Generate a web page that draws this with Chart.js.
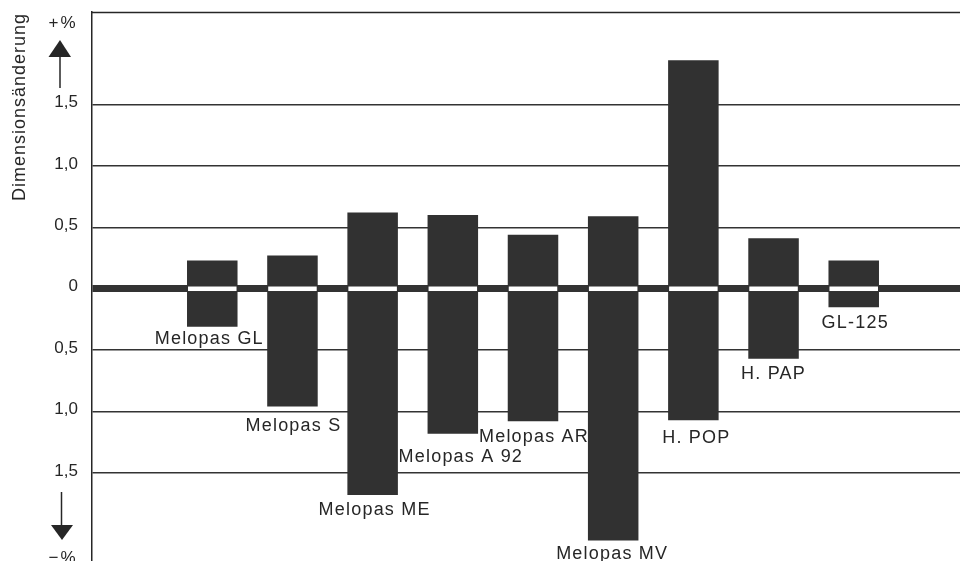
<!DOCTYPE html>
<html>
<head>
<meta charset="utf-8">
<script src="https://cdn.jsdelivr.net/npm/chart.js@4"></script>
<style>
  html, body { margin: 0; padding: 0; background: #fff; overflow: hidden; }
  #wrap { width: 974px; height: 561px; }
</style>
</head>
<body>
<div id="wrap"><canvas id="dimChart"></canvas></div>
<script>
// Materialien
var categories = ['Melopas GL', 'Melopas S', 'Melopas ME', 'Melopas A 92', 'Melopas AR',
                  'Melopas MV', 'H. POP', 'H. PAP', 'GL-125'];

// Dimensionsänderung in %: Zunahme (oben) und Abnahme (unten)
var growth = [0.23, 0.27, 0.62, 0.60, 0.44, 0.59, 1.86, 0.41, 0.23];
var shrink = [-0.31, -0.96, -1.68, -1.18, -1.08, -2.05, -1.07, -0.57, -0.15];

// y-Achse
var yTickValues = [-1.5, -1, -0.5, 0, 0.5, 1, 1.5];
var yTickLabels = ['1,5', '1,0', '0,5', '0', '0,5', '1,0', '1,5'];

var ink = '#262626';
var barColor = '#313131';
var fontFamily = '"Liberation Sans", Arial, Helvetica, sans-serif';

// one empty slot left and right so the bars sit where they do in the print
var slotLabels = [''].concat(categories).concat(['']);
var ranges = [null];
for (var i = 0; i < categories.length; i++) {
    ranges.push([shrink[i], growth[i]]);
}
ranges.push(null);

// fine placement of the bar captions (px), they are set by hand in the original
var captionDx = [-3, 1, 2, 8, 1, -1, 3, 0, 1.5];
var captionDy = [17, 24, 20, 28, 21, 19, 23, 20, 21];

var decorPlugin = {
    id: 'decor',
    beforeDatasetsDraw: function(chart) {
        var a = chart.chartArea, ctx = chart.ctx;
        ctx.save();
        ctx.strokeStyle = ink;
        ctx.lineWidth = 1.5;
        ctx.beginPath();
        ctx.moveTo(a.left, a.top + 0.5);
        ctx.lineTo(a.right, a.top + 0.5);
        ctx.stroke();
        ctx.restore();
    },
    afterDatasetsDraw: function(chart) {
        var ctx = chart.ctx;
        var y0 = chart.scales.y.getPixelForValue(0);
        var meta = chart.getDatasetMeta(0);
        ctx.save();
        meta.data.forEach(function(bar, i) {
            if (ranges[i] == null) return;
            var p = bar.getProps(['x', 'y', 'base', 'width'], true);
            // white stripe where the zero line crosses the bar
            ctx.fillStyle = '#fff';
            ctx.fillRect(p.x - p.width / 2 + 1, y0 - 2.2, p.width - 2, 4.5);
            // caption under the bar
            var k = i - 1;
            var bottom = Math.max(p.y, p.base);
            ctx.fillStyle = ink;
            ctx.font = '18px ' + fontFamily;
            ctx.letterSpacing = '1.2px';
            ctx.textAlign = 'center';
            ctx.textBaseline = 'alphabetic';
            ctx.fillText(categories[k], p.x + captionDx[k], bottom + captionDy[k]);
        });
        ctx.restore();
    },
    afterDraw: function(chart) {
        var ctx = chart.ctx;
        ctx.save();
        ctx.fillStyle = ink;
        ctx.strokeStyle = ink;

        // axis title, rotated
        ctx.save();
        ctx.translate(25, 107);
        ctx.rotate(-Math.PI / 2);
        ctx.font = '18px ' + fontFamily;
        ctx.letterSpacing = '1px';
        ctx.textAlign = 'center';
        ctx.textBaseline = 'alphabetic';
        ctx.fillText('Dimensionsänderung', 0, 0);
        ctx.restore();

        // +% and up arrow
        ctx.font = '17px ' + fontFamily;
        ctx.letterSpacing = '2px';
        ctx.textAlign = 'center';
        ctx.textBaseline = 'alphabetic';
        ctx.fillText('+%', 63, 28);
        ctx.lineWidth = 1.5;
        ctx.beginPath();
        ctx.moveTo(60, 56);
        ctx.lineTo(60, 88);
        ctx.stroke();
        ctx.beginPath();
        ctx.moveTo(60, 40);
        ctx.lineTo(71, 57);
        ctx.lineTo(48.5, 57);
        ctx.closePath();
        ctx.fill();

        // down arrow and −%
        ctx.beginPath();
        ctx.moveTo(61.5, 492);
        ctx.lineTo(61.5, 526);
        ctx.stroke();
        ctx.beginPath();
        ctx.moveTo(51, 525);
        ctx.lineTo(73, 525);
        ctx.lineTo(62, 540);
        ctx.closePath();
        ctx.fill();
        ctx.fillText('\u2212%', 63, 563);

        ctx.restore();
    }
};

var ctx = document.getElementById('dimChart').getContext('2d');

var dimChart = new Chart(ctx, {
    type: 'bar',
    data: {
        labels: slotLabels,
        datasets: [{
            data: ranges,
            backgroundColor: barColor,
            borderWidth: 0,
            borderSkipped: false,
            barPercentage: 0.63,
            categoryPercentage: 1.0
        }]
    },
    options: {
        responsive: true,
        maintainAspectRatio: false,
        animation: false,
        layout: {
            padding: { top: 12, left: 0, right: 0, bottom: 0 }
        },
        plugins: {
            legend: { display: false },
            tooltip: { enabled: false }
        },
        scales: {
            x: { display: false },
            y: {
                min: -2.217,
                max: 2.253,
                afterBuildTicks: function(scale) {
                    scale.ticks = yTickValues.map(function(v) { return { value: v }; });
                },
                afterFit: function(scale) {
                    scale.width = 92;
                    scale.paddingTop = 0;
                    scale.paddingBottom = 0;
                },
                ticks: {
                    padding: 14,
                    labelOffset: -2,
                    color: ink,
                    font: { family: fontFamily, size: 17 },
                    callback: function(value, index) {
                        return yTickLabels[index];
                    }
                },
                grid: {
                    drawTicks: false,
                    color: '#333333',
                    lineWidth: function(c) {
                        return c.tick && c.tick.value === 0 ? 7 : 1.5;
                    }
                },
                border: { display: true, color: ink, width: 1.5 }
            }
        }
    },
    plugins: [decorPlugin]
});
</script>
</body>
</html>
